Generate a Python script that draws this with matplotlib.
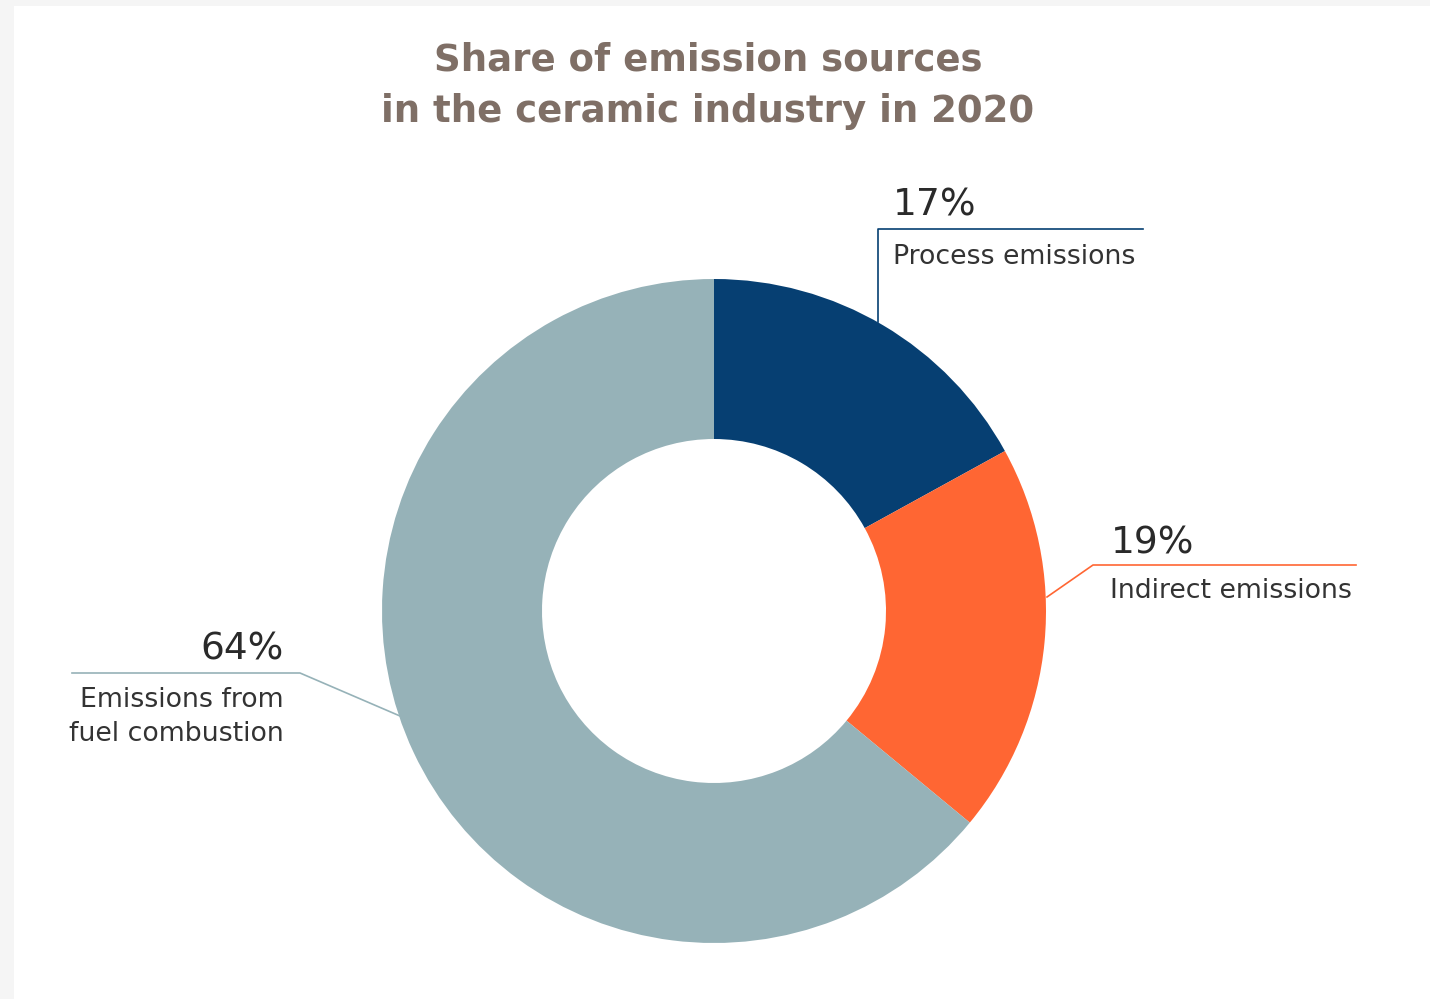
import matplotlib
matplotlib.use('Agg')
import matplotlib.pyplot as plt
from matplotlib.patches import Rectangle

# data
labels = ['Process emissions', 'Indirect emissions', 'Emissions from\nfuel combustion']
shares = [17, 19, 64]
colors = ['#063f72', '#ff6633', '#96b2b8']
title_lines = ['Share of emission sources', 'in the ceramic industry in 2020']

W, H = 1430, 999
fig = plt.figure(figsize=(W / 100, H / 100), dpi=100, facecolor='#f5f5f5')
fig.patches.append(Rectangle((14 / W, 0), 1, (H - 6) / H, transform=fig.transFigure,
                             facecolor='white', edgecolor='none', zorder=-5))

ax = fig.add_axes([0, 0, 1, 1])
ax.set_facecolor('none')

def Y(y):
    # pixel row (from top) to data y
    return H - y

cx, cy, r_out, ring = 714, Y(611), 332, 160
ax.pie(shares, colors=colors, startangle=90, counterclock=False,
       center=(cx, cy), radius=r_out,
       wedgeprops=dict(width=ring, edgecolor='none'))
ax.set_xlim(0, W)
ax.set_ylim(0, H)
ax.set_aspect('auto')
ax.axis('off')

for txt, yy in zip(title_lines, [60, 112]):
    ax.text(708, Y(yy), txt, ha='center', va='center', fontsize=26.7,
            fontweight='bold', color='#7f6f66', family='DejaVu Sans')

pct_kw = dict(fontsize=27, color='#2a2a2a', family='DejaVu Sans')
lab_kw = dict(fontsize=19.3, color='#333333', family='DejaVu Sans', linespacing=1.38)
lw = 1.2

# Process emissions
ax.plot([878, 878, 1143], [Y(322), Y(229), Y(229)], color=colors[0], lw=lw)
ax.text(893, Y(216), f'{shares[0]}%', ha='left', va='baseline', **pct_kw)
ax.text(893, Y(257), labels[0], ha='left', va='center', **lab_kw)

# Indirect emissions
ax.plot([1047, 1093, 1356], [Y(597), Y(565), Y(565)], color=colors[1], lw=lw)
ax.text(1111, Y(553), f'{shares[1]}%', ha='left', va='baseline', **pct_kw)
ax.text(1110, Y(591), labels[1], ha='left', va='center', **lab_kw)

# Fuel combustion
ax.plot([400, 300, 72], [Y(716), Y(673), Y(673)], color=colors[2], lw=lw)
ax.text(284, Y(659), f'{shares[2]}%', ha='right', va='baseline', **pct_kw)
ax.text(284, Y(717), labels[2], ha='right', va='center', **lab_kw)

fig.savefig('out.png', dpi=100, facecolor=fig.get_facecolor())
